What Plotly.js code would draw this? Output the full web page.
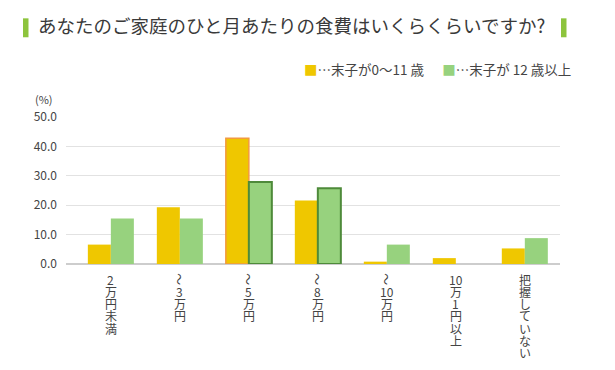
<!DOCTYPE html>
<html>
<head>
<meta charset="utf-8">
<script src="https://cdn.plot.ly/plotly-3.0.1.min.js"></script>
<style>
  html, body { margin: 0; padding: 0; background: #fff; }
  #chart { width: 615px; height: 370px; }
</style>
</head>
<body>
<div id="chart"></div>
<script>
// ---- data ----
var categories = ['2万円未満', '〜3万円', '〜5万円', '〜8万円', '〜10万円', '10万1円以上', '把握していない'];
// category labels as written vertically, one entry per line (top to bottom)
var labelLines = [
  ['2', '万', '円', '未', '満'],
  ['〜', '3', '万', '円'],
  ['〜', '5', '万', '円'],
  ['〜', '8', '万', '円'],
  ['〜', '10', '万', '円'],
  ['10', '万', '1', '円', '以', '上'],
  ['把', '握', 'し', 'て', 'い', 'な', 'い']
];
var seriesNames = ['…末子が0～11 歳', '…末子が 12 歳以上'];
var youngValues = [6.6, 19.3, 42.8, 21.6, 0.8, 2.0, 5.3];
var olderValues = [15.5, 15.5, 27.9, 25.8, 6.6, 0, 8.8];
var yTickVals = [0, 10, 20, 30, 40, 50];
var yTickText = ['0.0', '10.0', '20.0', '30.0', '40.0', '50.0'];
var titleText = 'あなたのご家庭のひと月あたりの食費はいくらくらいですか?';

// ---- styles ----
var YELLOW = '#EFC700';
var GREEN = '#97D27E';
var FONT = '"Noto Sans CJK JP", "Noto Sans", sans-serif';

var youngLineColors = youngValues.map(function (v, i) { return i === 2 ? '#F29A3F' : YELLOW; });
var youngLineWidths = youngValues.map(function (v, i) { return i === 2 ? 1.5 : 0; });
var olderLineColors = olderValues.map(function (v, i) { return (i === 2 || i === 3) ? '#4E8A3A' : GREEN; });
var olderLineWidths = olderValues.map(function (v, i) { return (i === 2 || i === 3) ? 2 : 0; });

var traces = [
  {
    type: 'bar', name: seriesNames[0], x: categories, y: youngValues,
    marker: { color: YELLOW, line: { color: youngLineColors, width: youngLineWidths } },
    hoverinfo: 'x+y'
  },
  {
    type: 'bar', name: seriesNames[1], x: categories, y: olderValues,
    marker: { color: GREEN, line: { color: olderLineColors, width: olderLineWidths } },
    hoverinfo: 'x+y'
  }
];

var annotations = [];
// vertical (tategaki-style) category labels: one character (or digit group) per line
categories.forEach(function (c, i) {
  labelLines[i].forEach(function (ch, j) {
    annotations.push({
      x: c, y: 0, xref: 'x', yref: 'y',
      text: ch, showarrow: false,
      textangle: ch === '〜' ? 90 : 0,
      xanchor: 'center', yanchor: 'middle',
      yshift: -(15 + j * 12.3), borderpad: 0,
      font: { family: FONT, size: 12, color: '#444' }
    });
  });
});
// "(%)" unit label
annotations.push({
  xref: 'paper', yref: 'paper', x: -0.045, y: 1.12,
  xanchor: 'center', yanchor: 'middle', showarrow: false,
  text: '(%)', font: { family: FONT, size: 11, color: '#444' }
});
// legend
annotations.push({
  xref: 'paper', yref: 'paper', x: 1.026, y: 1.325,
  xanchor: 'right', yanchor: 'middle', showarrow: false,
  text: '<span style="color:' + YELLOW + '">■</span>' + seriesNames[0] +
        '      <span style="color:' + GREEN + '">■</span>' + seriesNames[1],
  font: { family: FONT, size: 13.5, color: '#444' }
});

var layout = {
  width: 615, height: 370,
  margin: { l: 66, r: 55, t: 117, b: 105.5 },
  paper_bgcolor: '#fff', plot_bgcolor: '#fff',
  showlegend: false,
  barmode: 'group', bargap: 0.333, bargroupgap: 0,
  title: {
    text: titleText,
    x: 38 / 615, xanchor: 'left', xref: 'container',
    y: 1 - 27 / 370, yanchor: 'middle', yref: 'container',
    font: { family: FONT, size: 18.5, color: '#3a3a3a' }
  },
  xaxis: {
    type: 'category', range: [-0.65, 6.51],
    showticklabels: false, showgrid: false, zeroline: false, showline: false, ticks: ''
  },
  yaxis: {
    range: [0, 50], tickvals: yTickVals, ticktext: yTickText,
    showgrid: true, gridcolor: '#e2e2e2', gridwidth: 1,
    zeroline: true, zerolinecolor: '#cdcdcd', zerolinewidth: 2,
    showline: false, ticks: '', ticklabelstandoff: 8,
    tickfont: { family: FONT, size: 12, color: '#444' }
  },
  shapes: [
    { type: 'rect', xref: 'paper', yref: 'paper',
      x0: (23 - 66) / 494, x1: (28.5 - 66) / 494,
      y0: (264.5 - 37) / 147.5, y1: (264.5 - 18) / 147.5,
      fillcolor: '#8DC43D', line: { width: 0 } },
    { type: 'rect', xref: 'paper', yref: 'paper',
      x0: (561 - 66) / 494, x1: (566.5 - 66) / 494,
      y0: (264.5 - 37) / 147.5, y1: (264.5 - 18) / 147.5,
      fillcolor: '#8DC43D', line: { width: 0 } }
  ],
  annotations: annotations
};

Plotly.newPlot('chart', traces, layout, { displayModeBar: false, staticPlot: true });
</script>
</body>
</html>
